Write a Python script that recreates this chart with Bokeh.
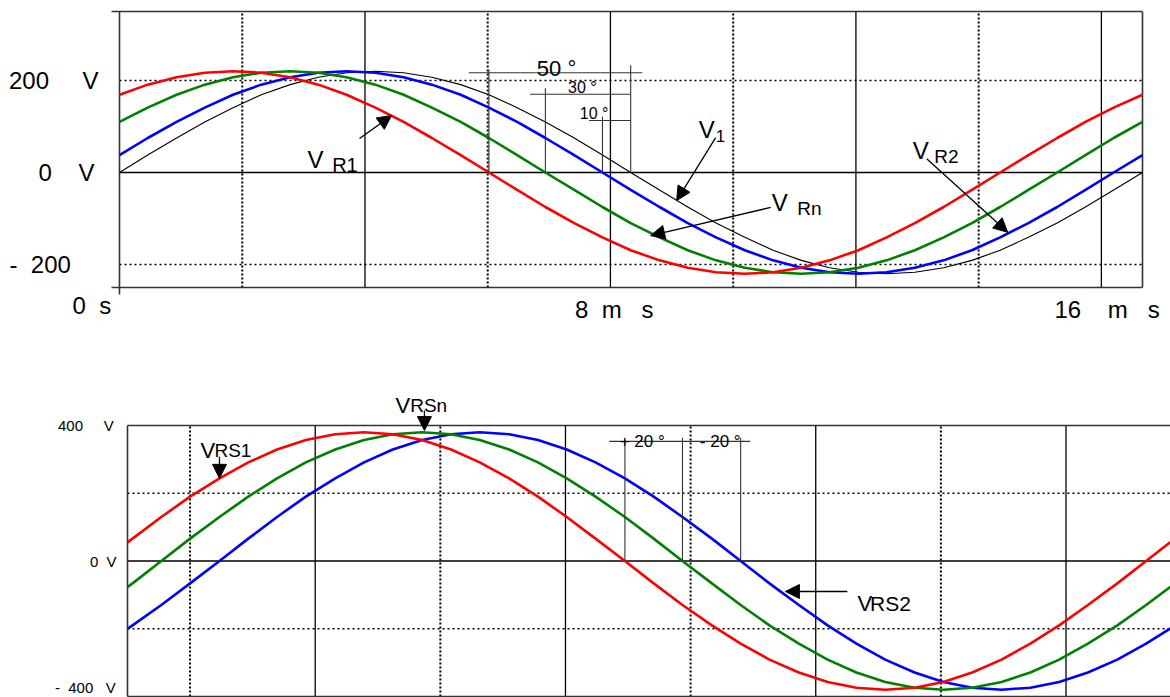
from bokeh.plotting import figure
from bokeh.layouts import column
from bokeh.models import Range1d, Label, Arrow, NormalHead
from bokeh.embed import file_html
from bokeh.resources import INLINE

FONT = "Liberation Sans"
RED, GREEN, BLUE, INK, FRAME = "#ff0000", "#008000", "#0000ff", "#000000", "#333333"
SP = "\u00a0"  # non-collapsing space used to spread the scope captions

# ---------------- upper screen: phase voltages over one 60 Hz period (ms, V) ----------------
T_TOP = [0.00, 0.46, 0.93, 1.39, 1.85, 2.31, 2.78, 3.24, 3.70, 4.17, 4.63, 5.09, 5.56,
         6.02, 6.48, 6.94, 7.41, 7.87, 8.33, 8.80, 9.26, 9.72, 10.19, 10.65, 11.11,
         11.57, 12.04, 12.50, 12.96, 13.43, 13.89, 14.35, 14.81, 15.28, 15.74, 16.20, 16.67]
V_1 = [0, 38, 75, 110, 141, 169, 191, 207, 217, 220, 217, 207, 191, 169, 141, 110, 75, 38,
       0, -38, -75, -110, -141, -169, -191, -207, -217, -220, -217, -207, -191, -169, -141,
       -110, -75, -38, 0]
V_R1 = [169, 191, 207, 217, 220, 217, 207, 191, 169, 141, 110, 75, 38, 0, -38, -75, -110,
        -141, -169, -191, -207, -217, -220, -217, -207, -191, -169, -141, -110, -75, -38, 0,
        38, 75, 110, 141, 169]
V_RN = [110, 141, 169, 191, 207, 217, 220, 217, 207, 191, 169, 141, 110, 75, 38, 0, -38,
        -75, -110, -141, -169, -191, -207, -217, -220, -217, -207, -191, -169, -141, -110,
        -75, -38, 0, 38, 75, 110]
V_R2 = [38, 75, 110, 141, 169, 191, 207, 217, 220, 217, 207, 191, 169, 141, 110, 75, 38, 0,
        -38, -75, -110, -141, -169, -191, -207, -217, -220, -217, -207, -191, -169, -141,
        -110, -75, -38, 0, 38]

TOP_V_TICKS = [200, 0, -200]
TOP_V_LABELS = ["200" + SP * 5 + "V", "0" + SP * 4 + "V", "-" + SP * 2 + "200"]
TOP_T_TICKS = [0, 8, 16]
TOP_T_LABELS = ["0" + SP * 2 + "s", "8" + SP * 2 + "m" + SP * 3 + "s",
                "16" + SP * 4 + "m" + SP * 3 + "s"]
SHIFT_LABELS = ["50 °", "30 °", "10 °"]

# ---------------- lower screen: line voltages (ms, V) ----------------
T_BOT = [1.00, 1.08, 1.54, 2.00, 2.47, 2.93, 3.39, 3.85, 4.32, 4.78, 5.24, 5.71, 6.17, 6.63,
         7.10, 7.56, 8.02, 8.48, 8.95, 9.41, 9.87, 10.34, 10.80, 11.26, 11.73, 12.19, 12.65,
         13.11, 13.58, 14.04, 14.50, 14.97, 15.43, 15.89, 16.35, 16.82, 17.28, 17.67]
V_RS1 = [55, 66, 130, 190, 244, 291, 329, 357, 374, 380, 374, 357, 329, 291, 244, 190, 130,
         66, 0, -66, -130, -190, -244, -291, -329, -357, -374, -380, -374, -357, -329, -291,
         -244, -190, -130, -66, 0, 56]
V_RSN = [-77, -66, 0, 66, 130, 190, 244, 291, 329, 357, 374, 380, 374, 357, 329, 291, 244,
         190, 130, 66, 0, -66, -130, -190, -244, -291, -329, -357, -374, -380, -374, -357,
         -329, -291, -244, -190, -130, -76]
V_RS2 = [-200, -190, -130, -66, 0, 66, 130, 190, 244, 291, 329, 357, 374, 380, 374, 357, 329,
         291, 244, 190, 130, 66, 0, -66, -130, -190, -244, -291, -329, -357, -374, -380, -374,
         -357, -329, -291, -244, -199]

BOT_V_TICKS = [400, 0, -400]
BOT_V_LABELS = ["400" + SP * 5 + "V", "0" + SP * 2 + "V", "-" + SP * 2 + "400" + SP * 3 + "V"]
BOT_SHIFT_LABELS = ["+ 20 °", "- 20 °"]

# scope graticule (ms / V)
T_MAJOR = [4, 8, 12, 16]
T_MINOR = [2, 6, 10, 14]
V_MINOR = [-200, 200]


def falling_zero(t, v):
    """Time where a trace crosses 0 V going down (linear between samples)."""
    for i in range(len(v) - 1):
        if v[i] > 0 >= v[i + 1]:
            return t[i] + (t[i + 1] - t[i]) * v[i] / (v[i] - v[i + 1])
    return None


def screen_figure(width, height, t0, t1, v0, v1, left, right, top, bottom):
    """Figure whose whole canvas is data space; the scope screen sits inside the margins."""
    kx = (width - left - right) / (t1 - t0)
    ky = (height - top - bottom) / (v1 - v0)
    p = figure(width=width, height=height,
               x_range=Range1d(t0 - left / kx, t1 + right / kx),
               y_range=Range1d(v0 - bottom / ky, v1 + top / ky),
               x_axis_location=None, y_axis_location=None,
               output_backend="svg", toolbar_location=None,
               min_border=0, min_border_left=0, min_border_right=0,
               min_border_top=0, min_border_bottom=0)
    p.grid.grid_line_color = None
    p.outline_line_color = None
    p.background_fill_color = "white"
    p.border_fill_color = "white"
    return p, kx, ky


def graticule(p, t0, t1, v0, v1):
    p.segment(x0=T_MINOR, y0=[v0] * 4, x1=T_MINOR, y1=[v1] * 4,
              line_color=INK, line_width=2, line_dash="2 2")
    p.segment(x0=[t0] * 2, y0=V_MINOR, x1=[t1] * 2, y1=V_MINOR,
              line_color=INK, line_width=1.5, line_dash="2 3")
    p.segment(x0=T_MAJOR, y0=[v0] * 4, x1=T_MAJOR, y1=[v1] * 4,
              line_color=INK, line_width=1.3)
    p.segment(x0=[t0], y0=[0], x1=[t1], y1=[0], line_color=INK, line_width=1.5)


def text(p, x, y, s, size, baseline="alphabetic", x_offset=0):
    p.add_layout(Label(x=x, y=y, text=s, text_font=FONT, text_font_size=f"{size}px",
                       text_color=INK, text_align="left", text_baseline=baseline,
                       x_offset=x_offset))


def pointer(p, x0, y0, x1, y1):
    p.add_layout(Arrow(x_start=x0, y_start=y0, x_end=x1, y_end=y1, line_color=INK,
                       line_width=1.3,
                       end=NormalHead(size=14, fill_color=INK, line_color=INK, line_width=1)))


# ================= upper screen =================
TT0, TT1, TV0, TV1 = 0, 16.67, -250, 350
top, kx, ky = screen_figure(1170, 340, TT0, TT1, TV0, TV1, left=119, right=28, top=11, bottom=53)
graticule(top, TT0, TT1, TV0, TV1)

# screen border with the corner ticks on the left / bottom
stub_t, stub_v = 8 / kx, 7 / ky
top.segment(x0=[TT0 - stub_t, TT0 - stub_t, TT0, TT1],
            y0=[TV1, TV0, TV0 - stub_v, TV0],
            x1=[TT1, TT1, TT0, TT1],
            y1=[TV1, TV0, TV1, TV1],
            line_color=FRAME, line_width=1.6)

top.line(T_TOP, V_1, line_color=INK, line_width=1.1)
top.line(T_TOP, V_R2, line_color=BLUE, line_width=2.6)
top.line(T_TOP, V_RN, line_color=GREEN, line_width=2.6)
top.line(T_TOP, V_R1, line_color=RED, line_width=2.6)

# phase-shift brackets between the falling zero crossings
t_1 = falling_zero(T_TOP, V_1)
t_r1 = falling_zero(T_TOP, V_R1)
t_rn = falling_zero(T_TOP, V_RN)
t_r2 = falling_zero(T_TOP, V_R2)
top.segment(x0=[t_r1 - 0.33, t_rn - 0.25, t_r2 - 0.22, t_r1, t_rn, t_r2, t_1],
            y0=[217, 170, 113, 0, 0, 0, 0],
            x1=[t_1 + 0.19, t_1, t_1, t_r1, t_rn, t_r2, t_1],
            y1=[217, 170, 113, 224, 183, 122, 233],
            line_color=FRAME, line_width=1.1)
text(top, 6.80, 226, SHIFT_LABELS[0], 22)
text(top, 7.31, 184, SHIFT_LABELS[1], 16)
text(top, 7.50, 128, SHIFT_LABELS[2], 16)

# scale captions
for v, s, off in zip(TOP_V_TICKS, TOP_V_LABELS, (-110.5, -81, -110)):
    text(top, TT0, v, s, 24, baseline="middle", x_offset=off)
for t, s, off, y in zip(TOP_T_TICKS, TOP_T_LABELS, (-47, -35.5, -47), (-289, -297, -297)):
    text(top, t, y, s, 24, baseline="middle", x_offset=off)

# trace names
text(top, 3.064, 28, "V", 24)
text(top, 3.465, 17, "R1", 20)
pointer(top, 3.912, 74, 4.434, 124)
text(top, 9.438, 93, "V", 24)
text(top, 9.715, 80, "1", 17)
pointer(top, 9.715, 76, 9.079, -61)
text(top, 10.628, -65, "V", 24)
text(top, 11.045, -78, "Rn", 19)
pointer(top, 10.611, -76, 8.655, -137)
text(top, 12.926, 48, "V", 24)
text(top, 13.278, 35, "R2", 19)
pointer(top, 13.154, 30, 14.474, -130)

# ================= lower screen =================
BT0, BT1, BV0, BV1 = 1, 17.67, -400, 400
bot, bkx, bky = screen_figure(1170, 357, BT0, BT1, BV0, BV1, left=127, right=0, top=85, bottom=1)
graticule(bot, BT0, BT1, BV0, BV1)
bot.segment(x0=[BT0, BT0, BT0], y0=[BV1, BV0, BV0], x1=[BT1, BT1, BT0], y1=[BV1, BV0, BV1],
            line_color=FRAME, line_width=1.6)

bot.line(T_BOT, V_RS2, line_color=BLUE, line_width=2.6)
bot.line(T_BOT, V_RSN, line_color=GREEN, line_width=2.6)
bot.line(T_BOT, V_RS1, line_color=RED, line_width=2.6)

b_1 = falling_zero(T_BOT, V_RS1)
b_n = falling_zero(T_BOT, V_RSN)
b_2 = falling_zero(T_BOT, V_RS2)
bot.segment(x0=[b_1 - 0.25, b_1, b_n, b_2], y0=[353, 0, 0, 0],
            x1=[b_2 + 0.155, b_1, b_n, b_2], y1=[353, 358, 364, 364],
            line_color=FRAME, line_width=1.1)
text(bot, 8.867, 354, BOT_SHIFT_LABELS[0], 17)
text(bot, 10.147, 354, BOT_SHIFT_LABELS[1], 17)

# the lowest caption is lifted a little so it stays on the canvas
for v, s, off, dv in zip(BOT_V_TICKS, BOT_V_LABELS, (-69.5, -37.6, -72.6), (0, 0, 26)):
    text(bot, BT0, v + dv, s, 15, baseline="middle", x_offset=off)

text(bot, 2.167, 326, "V", 22)
text(bot, 2.390, 326, "RS1", 19)
pointer(bot, 2.470, 308, 2.470, 244)
text(bot, 5.283, 459, "V", 22)
text(bot, 5.518, 459, "RSn", 19)
pointer(bot, 5.746, 444, 5.746, 385)
text(bot, 12.667, -126, "V", 22)
text(bot, 12.867, -126, "RS2", 21)
pointer(bot, 12.505, -90, 11.515, -90)

layout = column(top, bot, spacing=0)
open("out.html", "w").write(file_html(layout, INLINE))
